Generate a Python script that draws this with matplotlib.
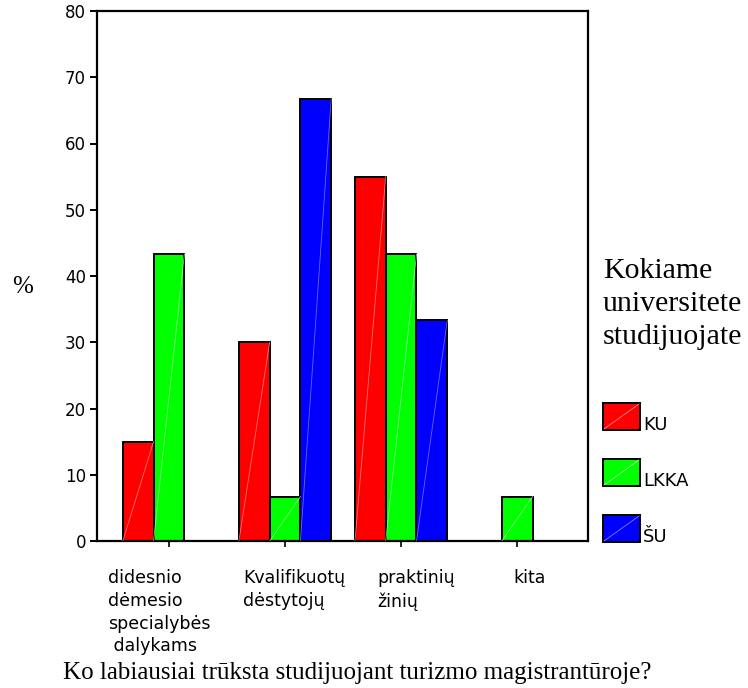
import matplotlib
matplotlib.use("Agg")
import matplotlib.pyplot as plt
from matplotlib.patches import Rectangle
import numpy as np

categories = ["didesnio\ndėmesio\nspecialybės\n dalykams", "Kvalifikuotų\ndėstytojų", "praktinių\nžinių", "kita"]
series_names = ["KU", "LKKA", "ŠU"]
ku = [15.0, 30.0, 55.0, 0.0]
lkka = [43.3, 6.7, 43.3, 6.7]
su = [0.0, 66.7, 33.3, 0.0]
colors = ["#FF0000", "#00FF00", "#0000FF"]
diag_colors = ["#FF9090", "#A0FFA0", "#8080FF"]
y_ticks = [0, 10, 20, 30, 40, 50, 60, 70, 80]

sans = ["DejaVu Sans"]
serif = ["Liberation Serif", "DejaVu Serif"]

W, H = 748, 688
fig = plt.figure(figsize=(W / 100, H / 100), dpi=100)
ax = fig.add_axes([97 / W, 147 / H, 491 / W, 530 / H])

x = np.arange(len(categories))
bw = 0.265
all_series = [ku, lkka, su]
for i, (vals, c, dc) in enumerate(zip(all_series, colors, diag_colors)):
    bars = ax.bar(x + (i - 1) * bw, vals, width=bw, color=c, edgecolor="black",
                  linewidth=1.4, zorder=2)
    for b in bars:
        h = b.get_height()
        if h > 0:
            x0 = b.get_x()
            ax.plot([x0, x0 + b.get_width()], [0, h], color=dc, lw=0.6, alpha=0.8, zorder=3)

ax.set_xlim(-0.62, 3.61)
ax.set_ylim(0, 80)
ax.set_yticks(y_ticks)
ax.set_yticklabels([str(v) for v in y_ticks], fontfamily=sans, fontsize=12)
ax.set_xticks(x)
ax.set_xticklabels([""] * len(categories))
ax.tick_params(axis="y", length=5, width=1.4, pad=3)
ax.tick_params(axis="x", length=4, width=1.2)
for s in ax.spines.values():
    s.set_linewidth(1.6)

# category labels (left aligned under ticks)
offsets = [-0.525, -0.362, -0.207, -0.035]
for xi, lab, off in zip(x, categories, offsets):
    ax.text(xi + off, -4.3, lab, ha="left", va="top", fontfamily=sans, fontsize=12.5,
            linespacing=1.33, transform=ax.transData, clip_on=False)

fig.text(23 / W, 1 - 287 / H, "%", ha="center", va="center", fontfamily=serif, fontsize=18)
fig.text(357 / W, 1 - 679 / H, "Ko labiausiai trūksta studijuojant turizmo magistrantūroje?",
         ha="center", va="baseline", fontfamily=serif, fontsize=18)

# legend
fig.text(603 / W, 1 - 258 / H, "Kokiame\nuniversitete\nstudijuojate", ha="left", va="top",
         fontfamily=serif, fontsize=21.5, linespacing=1.36)
box_tops = [403, 459, 515]
for name, c, dc, top in zip(series_names, colors, diag_colors, box_tops):
    r = Rectangle((603 / W, 1 - (top + 27) / H), 37 / W, 27 / H, transform=fig.transFigure,
                  facecolor=c, edgecolor="black", linewidth=1.4)
    fig.patches.append(r)
    fig.lines.append(plt.Line2D([604 / W, 639 / W], [1 - (top + 26) / H, 1 - (top + 1) / H],
                                transform=fig.transFigure, color=dc, lw=0.6))
    fig.text(643 / W, 1 - (top + 27) / H, name, ha="left", va="baseline",
             fontfamily=sans, fontsize=13)

fig.savefig("out.png", dpi=100)
